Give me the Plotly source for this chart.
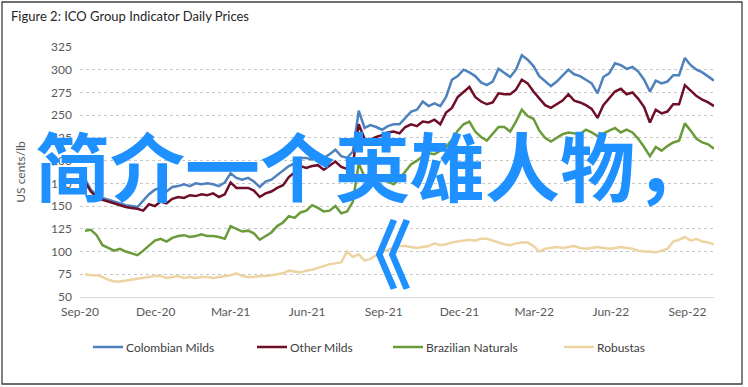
import plotly.graph_objects as go
import pandas as pd

# ---- data (weekly readings of daily ICO prices, US cents/lb) ----
start_date = "2020-09-07"
n_weeks = 109
dates = pd.date_range(start_date, periods=n_weeks, freq="7D")

colombian_milds = [180, 168, 162, 159, 157, 155, 153, 151, 150, 149,
                   156, 163, 168, 170, 166, 171, 172, 174, 172, 175,
                   174, 175, 174, 172, 176, 186, 181, 179, 181, 177,
                   171, 177, 179, 184, 188, 194, 197, 203, 203, 201,
                   205, 203, 207, 212, 205, 203, 210, 255, 236, 239,
                   237, 234, 238, 240, 240, 247, 254, 256, 265, 260,
                   263, 260, 270, 289, 293, 300, 297, 293, 286, 283,
                   287, 301, 296, 292, 300, 316, 311, 304, 293, 287,
                   282, 287, 293, 300, 295, 293, 289, 285, 274, 292,
                   296, 307, 305, 301, 303, 298, 289, 276, 288, 285,
                   287, 294, 294, 313, 305, 300, 297, 292, 288]

other_milds = [177, 166, 160, 157, 155, 153, 151, 149, 148, 147,
               145, 152, 150, 155, 153, 158, 160, 159, 162, 161,
               163, 162, 164, 160, 163, 176, 170, 170, 170, 167,
               160, 164, 166, 170, 173, 182, 187, 194, 192, 194,
               195, 190, 195, 199, 193, 191, 196, 240, 224, 223,
               226, 228, 231, 232, 230, 237, 240, 238, 243, 242,
               245, 240, 253, 258, 270, 275, 281, 270, 265, 262,
               264, 274, 273, 273, 278, 289, 285, 276, 268, 261,
               258, 262, 266, 273, 266, 264, 261, 257, 247, 261,
               268, 276, 279, 273, 275, 268, 259, 242, 256, 252,
               254, 262, 262, 283, 277, 271, 267, 264, 260]

brazilian_naturals = [123, 124, 118, 107, 104, 101, 103, 100, 98, 96,
                      101, 107, 112, 114, 111, 115, 117, 118, 116, 117,
                      119, 117, 117, 116, 114, 128, 125, 122, 123, 120,
                      113, 117, 121, 128, 132, 139, 137, 143, 145, 151,
                      148, 144, 145, 150, 142, 144, 155, 197, 182, 178,
                      176, 179, 177, 174, 180, 188, 196, 200, 205, 208,
                      207, 211, 215, 223, 233, 240, 243, 232, 226, 222,
                      230, 237, 237, 232, 243, 256, 249, 246, 233, 225,
                      221, 225, 229, 231, 230, 229, 234, 231, 227, 230,
                      233, 236, 231, 234, 231, 224, 215, 205, 215, 211,
                      216, 220, 222, 241, 233, 224, 220, 218, 213]

robustas = [75, 74, 74, 72, 69, 67, 67, 68, 69, 70,
            71, 72, 73, 73, 71, 72, 73, 71, 72, 71,
            72, 72, 71, 72, 73, 74, 76, 73, 72, 72,
            73, 73, 74, 75, 76, 79, 78, 77, 79, 80,
            82, 84, 86, 87, 88, 100, 94, 97, 90, 92,
            96, 100, 102, 104, 106, 106, 105, 104, 105, 106,
            109, 107, 108, 110, 111, 112, 113, 112, 114, 114,
            112, 110, 108, 107, 109, 110, 110, 106, 100, 103,
            104, 105, 104, 105, 106, 104, 103, 104, 105, 104,
            103, 104, 105, 104, 103, 101, 100, 100, 99, 101,
            103, 111, 113, 116, 112, 114, 111, 110, 108]

series_names = ["Colombian Milds", "Other Milds", "Brazilian Naturals", "Robustas"]
series_values = [colombian_milds, other_milds, brazilian_naturals, robustas]
series_colors = ["#4F81BD", "#6E0E28", "#6A9A3A", "#EDD4A2"]

tick_dates = ["2020-09-01", "2020-12-01", "2021-03-01", "2021-06-01", "2021-09-01",
              "2021-12-01", "2022-03-01", "2022-06-01", "2022-09-01"]
tick_labels = ["Sep-20", "Dec-20", "Mar-21", "Jun-21", "Sep-21",
               "Dec-21", "Mar-22", "Jun-22", "Sep-22"]
y_ticks = [50, 75, 100, 125, 150, 175, 200, 225, 250, 275, 300, 325]

title_text = "Figure 2: ICO Group Indicator Daily Prices"
y_title = "US cents/lb"
overlay_line1 = "简介一个英雄人物，"
overlay_line2 = "《"

# ---- layout geometry (pixels) ----
W, H = 748, 387
L, R, T, B = 80, 34, 47, 90
PW, PH = W - L - R, H - T - B


def px(x):
    return (x - L) / PW


def py(y):
    return (H - B - y) / PH


FONT = "Lato, 'Open Sans', sans-serif"

fig = go.Figure()
for name, vals, col in zip(series_names, series_values, series_colors):
    fig.add_trace(go.Scatter(x=dates, y=vals, name=name, mode="lines",
                             line=dict(color=col, width=2.5), showlegend=False))

shapes = []
annotations = []

# manual legend
legend_line_x = [93, 257, 393, 564]
for name, col, lx in zip(series_names, series_colors, legend_line_x):
    shapes.append(dict(type="line", xref="paper", yref="paper",
                       x0=px(lx), x1=px(lx + 30), y0=py(347), y1=py(347),
                       line=dict(color=col, width=2.5)))
    annotations.append(dict(text=name, xref="paper", yref="paper",
                            x=px(lx + 31), y=py(347), xanchor="left", yanchor="middle",
                            showarrow=False, font=dict(family=FONT, size=12, color="#404040")))

# outer frame
shapes.append(dict(type="rect", xref="paper", yref="paper",
                   x0=px(2), x1=px(742), y0=py(384), y1=py(2),
                   line=dict(color="#3f3f3f", width=1.3), fillcolor="rgba(0,0,0,0)", layer="below"))

# title
annotations.append(dict(text=title_text, xref="paper", yref="paper",
                        x=px(9), y=py(16), xanchor="left", yanchor="middle",
                        showarrow=False, font=dict(family=FONT, size=13, color="#262626")))

# overlay text
overlay_font = dict(family="'Noto Sans CJK SC'", size=75, color="#1E90FF", weight="bold")
annotations.append(dict(text=overlay_line1, xref="paper", yref="paper",
                        x=px(372), y=py(163), xanchor="center", yanchor="middle",
                        showarrow=False, font=overlay_font))
annotations.append(dict(text=overlay_line2, xref="paper", yref="paper",
                        x=px(374), y=py(250), xanchor="center", yanchor="middle",
                        showarrow=False, font=overlay_font))

fig.update_layout(
    width=W, height=H,
    margin=dict(l=L, r=R, t=T, b=B, pad=0),
    paper_bgcolor="white", plot_bgcolor="white",
    shapes=shapes, annotations=annotations,
    showlegend=False,
    font=dict(family=FONT, size=12, color="#595959"),
)
fig.update_xaxes(
    type="date", range=["2020-09-01", "2022-10-03"],
    tickvals=tick_dates, ticktext=tick_labels,
    showgrid=False, showline=True, linecolor="#d9d9d9", linewidth=1,
    ticks="", ticklabelstandoff=4, zeroline=False,
    tickfont=dict(family=FONT, size=12, color="#595959"),
)
fig.update_yaxes(
    range=[50, 325], tickvals=y_ticks,
    showgrid=True, gridcolor="#c8c8c8", griddash="dot", gridwidth=1,
    showline=False, zeroline=False, ticks="", ticklabelstandoff=7,
    tickfont=dict(family=FONT, size=12, color="#595959"),
    title=dict(text=y_title, font=dict(family=FONT, size=12, color="#595959"), standoff=22),
)

fig.write_html("out.html", config={"displayModeBar": False},
               post_script="document.body.style.margin='0';document.body.style.overflow='hidden';")
